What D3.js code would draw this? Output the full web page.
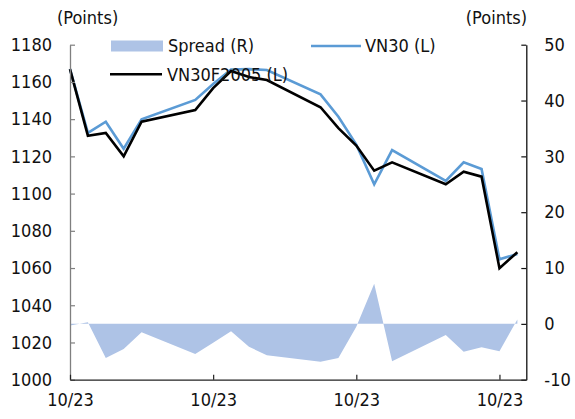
<!DOCTYPE html>
<html>
<head>
<meta charset="utf-8">
<script src="https://cdn.jsdelivr.net/npm/d3@7/dist/d3.min.js"></script>
<style>
  html, body { margin: 0; padding: 0; background: #fff; }
  svg { display: block; }
  text { font-family: "DejaVu Sans Condensed", "DejaVu Sans", sans-serif; font-stretch: condensed; font-size: 18px; fill: #111; }
</style>
</head>
<body>
<svg id="chart" width="575" height="419"></svg>
<script>
// ---- data ----
const dayOffsets = [0, 1, 2, 3, 4, 7, 8, 9, 10, 11, 14, 15, 16, 17, 18, 21, 22, 23, 24, 25];
const vn30 = [1166.9, 1132.6, 1138.6, 1124.1, 1139.9, 1150.3, 1158.9, 1166.7, 1166.9, 1166.4,
              1153.3, 1141.3, 1126.3, 1105.0, 1123.4, 1106.8, 1116.8, 1113.2, 1064.7, 1067.5];
const vn30f2005 = [1166.9, 1131.1, 1132.6, 1120.0, 1138.6, 1144.9, 1156.7, 1165.9, 1162.6, 1161.0,
                   1146.4, 1135.2, 1125.8, 1112.3, 1116.8, 1105.0, 1111.8, 1109.1, 1059.9, 1068.5];
const spread = [-0.3, 0.3, -6.1, -4.5, -1.5, -5.4, -3.4, -1.3, -4.1, -5.6,
                -6.8, -6.1, -0.5, 7.2, -6.7, -2.0, -5.0, -4.2, -4.9, 0.8];
const xTickDays = [0, 8, 16, 24];
const xTickLabels = ["10/23", "10/23", "10/23", "10/23"];
const leftTicks = [1000, 1020, 1040, 1060, 1080, 1100, 1120, 1140, 1160, 1180];
const rightTicks = [-10, 0, 10, 20, 30, 40, 50];
const seriesNames = ["Spread (R)", "VN30 (L)", "VN30F2005 (L)"];
const unitLabel = "(Points)";

// ---- layout ----
const L = 70, R = 526.3, T = 44.7, B = 379.7;
const svg = d3.select("#chart");

const x = d3.scaleLinear().domain([0, 25.5]).range([L, R]);
const yL = d3.scaleLinear().domain([1000, 1180]).range([B, T]);
const yR = d3.scaleLinear().domain([-10, 50]).range([B, T]);

const rows = dayOffsets.map((d, i) => ({ d, a: vn30[i], f: vn30f2005[i], s: spread[i] }));
const plainInt = v => String(v);

// area (spread, right axis)
svg.append("path")
  .datum(rows)
  .attr("fill", "#aec3e6")
  .attr("d", d3.area().x(r => x(r.d)).y0(yR(0)).y1(r => yR(r.s)));

// VN30 line
svg.append("path")
  .datum(rows)
  .attr("fill", "none").attr("stroke", "#5b9bd5").attr("stroke-width", 2.6)
  .attr("stroke-linejoin", "miter")
  .attr("d", d3.line().x(r => x(r.d)).y(r => yL(r.a)));

// VN30F2005 line
svg.append("path")
  .datum(rows)
  .attr("fill", "none").attr("stroke", "#000").attr("stroke-width", 2.6)
  .attr("stroke-linejoin", "miter")
  .attr("d", d3.line().x(r => x(r.d)).y(r => yL(r.f)));

// left axis
const gL = svg.append("g").attr("transform", `translate(${L},0)`)
  .call(d3.axisLeft(yL).tickValues(leftTicks).tickFormat(plainInt).tickSizeInner(-5).tickSizeOuter(0).tickPadding(18));
gL.select(".domain").attr("stroke", "#7f7f7f").attr("stroke-width", 1.3);
gL.selectAll(".tick line").attr("stroke", "#7f7f7f").attr("stroke-width", 1.2);
gL.selectAll(".tick text").attr("font-size", null).attr("font-family", null).attr("fill", "#111");

// right axis
const gR = svg.append("g").attr("transform", `translate(${R},0)`)
  .call(d3.axisRight(yR).tickValues(rightTicks).tickFormat(plainInt).tickSizeInner(-5).tickSizeOuter(0).tickPadding(18));
gR.select(".domain").attr("stroke", "#111").attr("stroke-width", 1.3);
gR.selectAll(".tick line").attr("stroke", "#111").attr("stroke-width", 1.2);
gR.selectAll(".tick text").attr("font-size", null).attr("font-family", null).attr("fill", "#111");

// bottom axis
const gB = svg.append("g").attr("transform", `translate(0,${B})`)
  .call(d3.axisBottom(x).tickValues(xTickDays).tickFormat((d, i) => xTickLabels[i]).tickSizeInner(-5).tickSizeOuter(0).tickPadding(14));
gB.select(".domain").attr("stroke", "#222").attr("stroke-width", 1.3);
gB.selectAll(".tick line").attr("stroke", "#222").attr("stroke-width", 1.2);
gB.selectAll(".tick text").attr("font-size", null).attr("font-family", null).attr("fill", "#111");

// unit labels
svg.append("text").attr("x", 57).attr("y", 24).text(unitLabel);
svg.append("text").attr("x", 527).attr("y", 24).attr("text-anchor", "end").text(unitLabel);

// legend
const lg = svg.append("g");
lg.append("rect").attr("x", 111).attr("y", 40.5).attr("width", 52).attr("height", 11).attr("fill", "#aec3e6");
lg.append("text").attr("x", 168).attr("y", 46).attr("dy", "0.35em").text(seriesNames[0]);
lg.append("line").attr("x1", 311).attr("x2", 361).attr("y1", 46).attr("y2", 46)
  .attr("stroke", "#5b9bd5").attr("stroke-width", 2.6);
lg.append("text").attr("x", 365).attr("y", 46).attr("dy", "0.35em").text(seriesNames[1]);
lg.append("line").attr("x1", 110).attr("x2", 162).attr("y1", 74.3).attr("y2", 74.3)
  .attr("stroke", "#000").attr("stroke-width", 2.6);
lg.append("text").attr("x", 167).attr("y", 74.3).attr("dy", "0.35em").text(seriesNames[2]);
</script>
</body>
</html>
